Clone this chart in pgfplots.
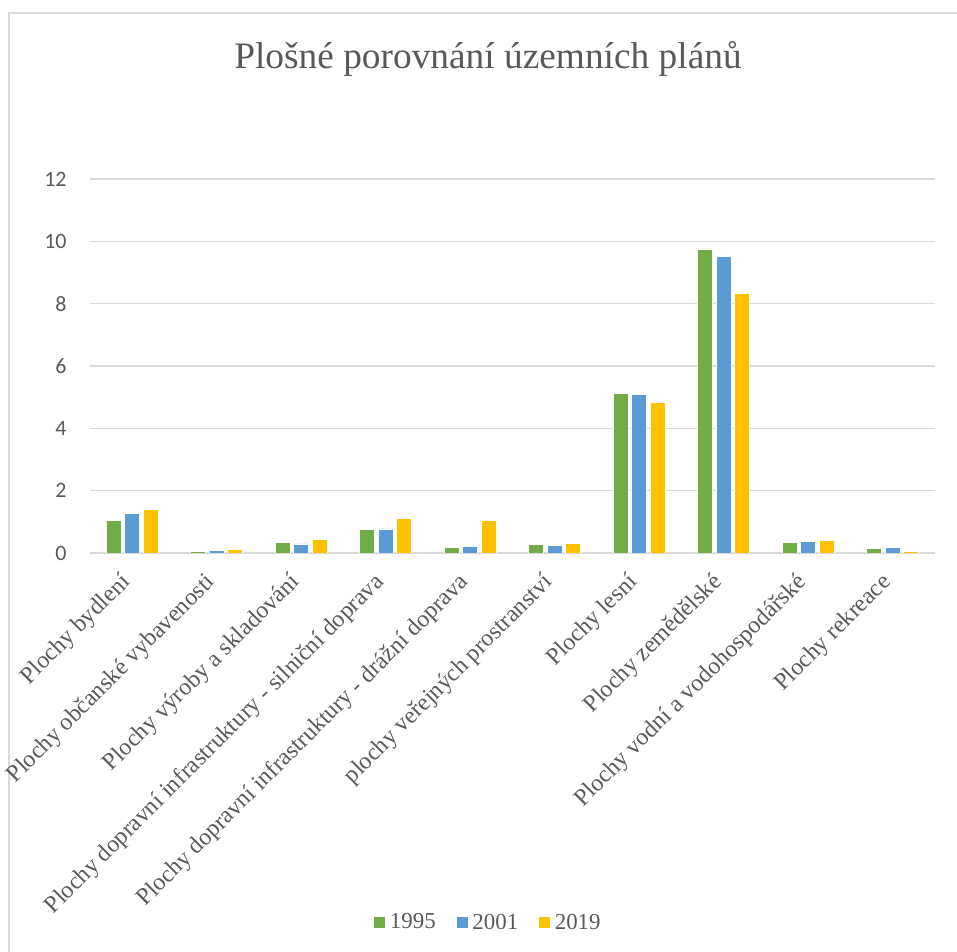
\documentclass[border=0pt]{standalone}
\usepackage{pgfplots}
\pgfplotsset{compat=1.18}
\usepackage{fontspec}
\setmainfont{Liberation Serif}
\newfontfamily\calibri{Carlito}
\definecolor{cgreen}{HTML}{70AD47}
\definecolor{cblue}{HTML}{5B9BD5}
\definecolor{cyellow}{HTML}{FFC000}
\definecolor{textgray}{HTML}{595959}
\definecolor{gridgray}{HTML}{D9D9D9}
\begin{document}
\begin{tikzpicture}[x=1bp,y=1bp]
\useasboundingbox (0,0) rectangle (957,952);
\draw[color=gridgray, line width=1.5bp] (9,-20) -- (9,939) -- (980,939);
\node[text=textgray, font=\fontsize{37.5}{40}\selectfont] at (488,893) {Plošné porovnání územních plánů};
\begin{axis}[
  at={(90bp,399bp)}, anchor=south west,
  width=845bp, height=374bp, scale only axis,
  ymin=0, ymax=12, ytick={0,2,...,12},
  xmin=-0.5, xmax=9.5,
  xtick={0,...,9},
  xticklabels={Plochy bydlení, Plochy občanské vybavenosti, Plochy výroby a skladování, Plochy dopravní infrastruktury - silniční doprava, Plochy dopravní infrastruktury - drážní doprava, plochy veřejných prostranství, Plochy lesní, Plochy zemědělské, Plochy vodní a vodohospodářské, Plochy rekreace},
  xticklabel style={font=\fontsize{24}{26}\selectfont, text=textgray, xshift=-5bp, yshift=-26bp, anchor=east, rotate=45, inner sep=0pt},
  yticklabel style={font=\calibri\fontsize{22}{24}\selectfont, text=textgray, xshift=-20bp},
  /pgf/number format/assume math mode=true,
  axis line style={draw=none},
  major tick length=0pt,
  ymajorgrids, major grid style={draw=gridgray, line width=1.3bp},
  ybar=3.5bp, bar width=15bp,
  legend columns=3,
  legend style={at={(0.471,-0.987)}, anchor=center, draw=none, fill=none,
    font=\fontsize{23}{25}\selectfont, text=textgray,
    /tikz/every even column/.append style={column sep=18bp},
    /tikz/every odd column/.append style={column sep=2bp}},
  legend image code/.code={\fill[#1] (0bp,-6bp) rectangle (12bp,6bp);},
]
\addplot[fill=cgreen, draw=white, line width=0.6bp] coordinates {(0,1.05) (1,0.05) (2,0.35) (3,0.75) (4,0.19) (5,0.28) (6,5.11) (7,9.76) (8,0.33) (9,0.15)};
\addplot[fill=cblue, draw=white, line width=0.6bp] coordinates {(0,1.28) (1,0.09) (2,0.29) (3,0.77) (4,0.21) (5,0.24) (6,5.10) (7,9.51) (8,0.38) (9,0.18)};
\addplot[fill=cyellow, draw=white, line width=0.6bp] coordinates {(0,1.40) (1,0.12) (2,0.43) (3,1.12) (4,1.05) (5,0.30) (6,4.82) (7,8.33) (8,0.41) (9,0.05)};
\legend{1995, 2001, 2019}
\end{axis}
\end{tikzpicture}
\end{document}
